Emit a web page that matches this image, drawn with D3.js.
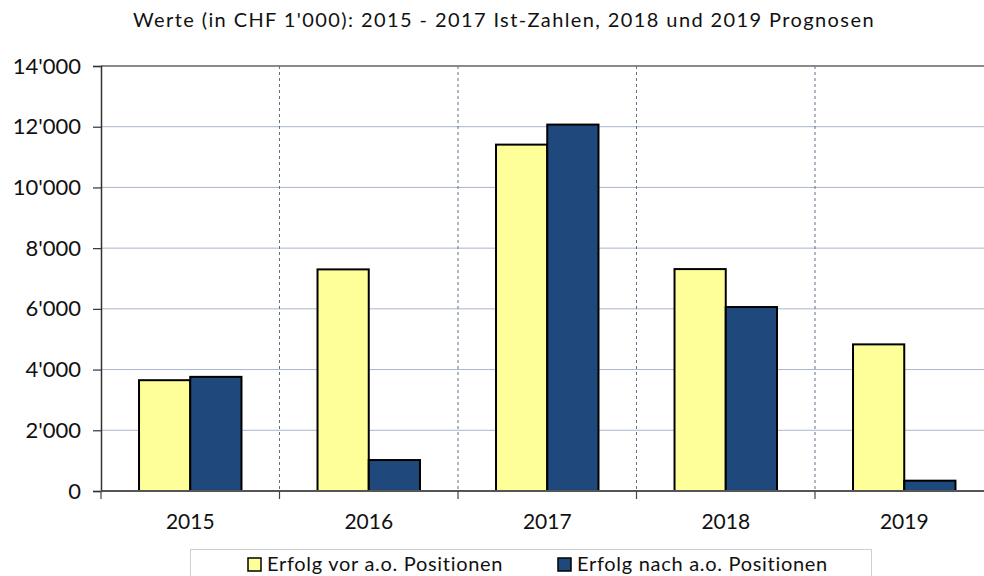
<!DOCTYPE html>
<html>
<head>
<meta charset="utf-8">
<script src="https://cdn.jsdelivr.net/npm/d3@7"></script>
<style>
  body { margin: 0; background: #fff; }
  svg { display: block; font-family: "Gill Sans", "Gill Sans MT", Lato, "Open Sans", sans-serif; }
</style>
</head>
<body>
<div id="chart"></div>
<script>
var years = ["2015", "2016", "2017", "2018", "2019"];
var series = ["Erfolg vor a.o. Positionen", "Erfolg nach a.o. Positionen"];
var vorValues = [3650, 7300, 11410, 7310, 4830];
var nachValues = [3760, 1020, 12070, 6060, 340];
var yTicks = [0, 2000, 4000, 6000, 8000, 10000, 12000, 14000];
var colors = ["#ffff99", "#1f497d"];
var title = "Werte (in CHF 1'000): 2015 - 2017 Ist-Zahlen, 2018 und 2019 Prognosen";

var width = 984, height = 576;
var plotLeft = 101, plotTop = 66, plotBottom = 491;
var bandW = 178.5;

var svg = d3.select("#chart").append("svg")
  .attr("width", width)
  .attr("height", height);

var x0 = d3.scaleBand().domain(years).range([plotLeft, plotLeft + bandW * years.length]);
var x1 = d3.scaleBand().domain(series).range([bandW * 0.213, bandW * 0.787]);
var y = d3.scaleLinear().domain([0, 14000]).range([plotBottom, plotTop]);

var locale = d3.formatLocale({decimal: ".", thousands: "'", grouping: [3], currency: ["", ""]});
var fmt = locale.format(",");

// horizontal gridlines
svg.append("g")
  .selectAll("line")
  .data(yTicks.filter(function(d){ return d > 0 && d < 14000; }))
  .enter().append("line")
    .attr("x1", plotLeft).attr("x2", width)
    .attr("y1", function(d){ return y(d); })
    .attr("y2", function(d){ return y(d); })
    .style("stroke", "#a9b5cb")
    .style("stroke-width", 1);

// top border
svg.append("line")
  .attr("x1", plotLeft).attr("x2", width)
  .attr("y1", y(14000)).attr("y2", y(14000))
  .style("stroke", "#8a8a8a")
  .style("stroke-width", 2);

// vertical dashed separators
svg.append("g")
  .selectAll("line")
  .data(years.slice(1))
  .enter().append("line")
    .attr("x1", function(d){ return x0(d); })
    .attr("x2", function(d){ return x0(d); })
    .attr("y1", plotTop).attr("y2", plotBottom)
    .style("stroke", "#5f7089")
    .style("stroke-width", 1)
    .style("stroke-dasharray", "3,3");

// bars
var data = years.map(function(yr, i){
  return {year: yr, values: [vorValues[i], nachValues[i]]};
});

var groups = svg.append("g")
  .selectAll("g")
  .data(data)
  .enter().append("g")
    .attr("transform", function(d){ return "translate(" + x0(d.year) + ",0)"; });

groups.selectAll("rect")
  .data(function(d){ return d.values.map(function(v, j){ return {key: series[j], value: v, idx: j}; }); })
  .enter().append("rect")
    .attr("x", function(d){ return x1(d.key); })
    .attr("width", x1.bandwidth())
    .attr("y", function(d){ return y(d.value); })
    .attr("height", function(d){ return plotBottom - y(d.value); })
    .attr("fill", function(d){ return colors[d.idx]; })
    .style("stroke", "#000")
    .style("stroke-width", 2);

// y axis
var yAxis = svg.append("g")
  .attr("transform", "translate(" + plotLeft + ",0)")
  .attr("font-family", null)
  .attr("font-size", null)
  .call(d3.axisLeft(y).tickValues(yTicks).tickFormat(fmt).tickSize(8).tickPadding(12));
yAxis.attr("font-family", null);
yAxis.select(".domain").style("stroke", "#333").style("stroke-width", 1.5);
yAxis.selectAll(".tick line").style("stroke", "#333").style("stroke-width", 1.2);
yAxis.selectAll("text")
  .style("font-size", "22px")
  .style("fill", "#111");

// x axis baseline
svg.append("line")
  .attr("x1", plotLeft).attr("x2", width)
  .attr("y1", plotBottom).attr("y2", plotBottom)
  .style("stroke", "#555")
  .style("stroke-width", 2);

// x tick marks at band boundaries
svg.append("g")
  .selectAll("line")
  .data(years)
  .enter().append("line")
    .attr("x1", function(d){ return x0(d); })
    .attr("x2", function(d){ return x0(d); })
    .attr("y1", plotBottom).attr("y2", plotBottom + 8)
    .style("stroke", "#444")
    .style("stroke-width", 1.2);

// x labels
svg.append("g")
  .selectAll("text")
  .data(years)
  .enter().append("text")
    .attr("x", function(d){ return x0(d) + bandW / 2; })
    .attr("y", 529)
    .attr("text-anchor", "middle")
    .style("font-size", "21px")
    .style("fill", "#111")
    .text(function(d){ return d; });

// title
svg.append("text")
  .attr("x", 504)
  .attr("y", 27)
  .attr("text-anchor", "middle")
  .style("font-size", "20px")
  .style("letter-spacing", "1.4px")
  .style("fill", "#111")
  .text(title);

// legend
var legend = svg.append("g");
legend.append("rect")
  .attr("x", 190.5).attr("y", 549.5)
  .attr("width", 681).attr("height", 40)
  .attr("fill", "#fff")
  .style("stroke", "#cfcfcf")
  .style("stroke-width", 1);

var legendX = [248, 558];
var items = legend.selectAll("g")
  .data(series)
  .enter().append("g")
    .attr("transform", function(d, i){ return "translate(" + legendX[i] + ",0)"; });
items.append("rect")
  .attr("x", 0).attr("y", 558)
  .attr("width", 13).attr("height", 13)
  .attr("fill", function(d, i){ return colors[i]; })
  .style("stroke", "#000")
  .style("stroke-width", 1.5);
items.append("text")
  .attr("x", 19).attr("y", 571)
  .style("font-size", "20px")
  .style("letter-spacing", "0.7px")
  .style("fill", "#111")
  .text(function(d){ return d; });
</script>
</body>
</html>
